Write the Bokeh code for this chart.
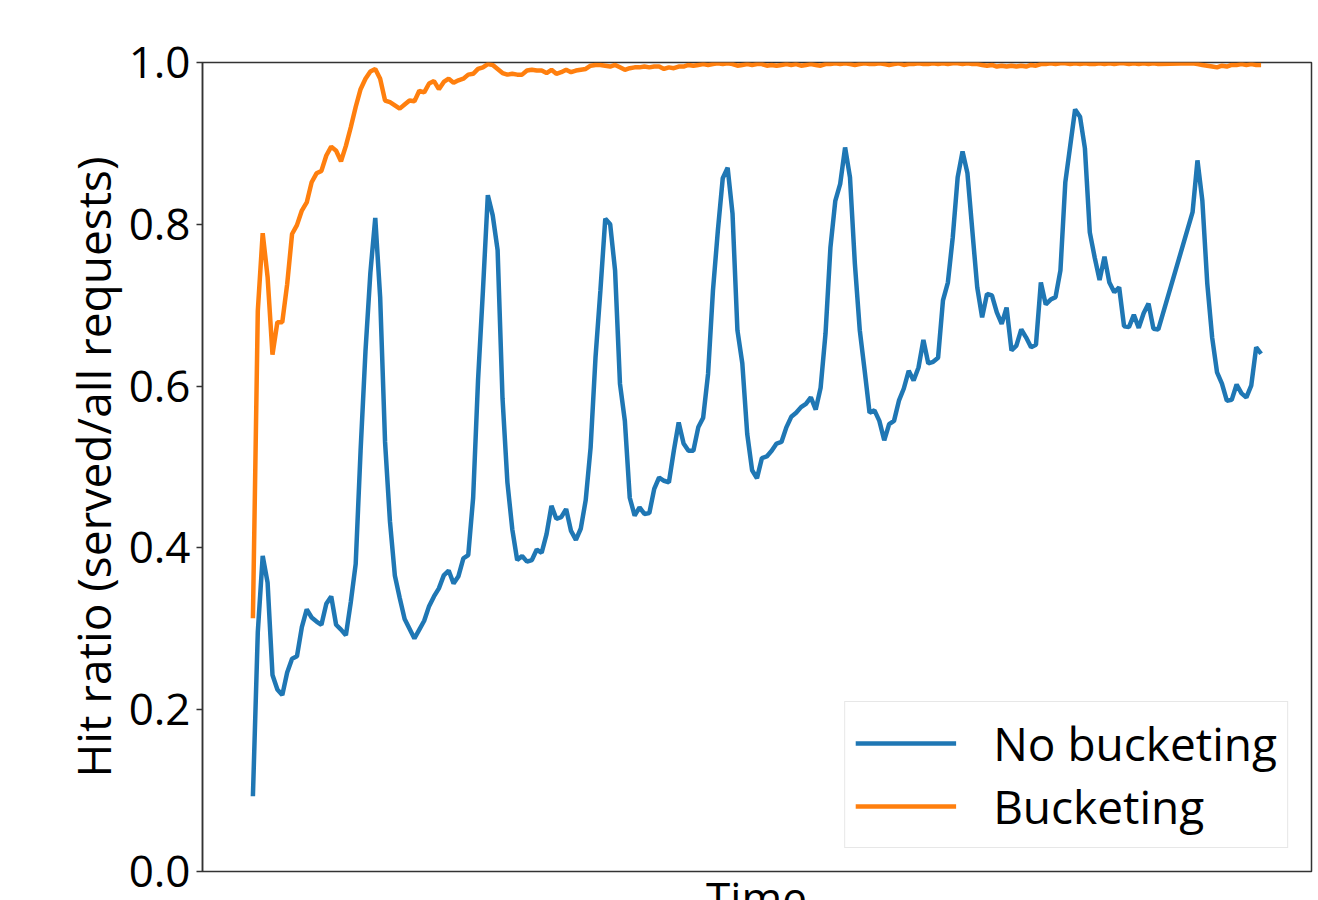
from bokeh.plotting import figure
from bokeh.models import Range1d, FixedTicker, PrintfTickFormatter, Legend, LegendItem, Div
from bokeh.layouts import column
from bokeh.embed import file_html
from bokeh.resources import INLINE

# ---------------- data ----------------
# hourly samples (a few hours missing near the end)
hours = list(range(0, 186)) + list(range(192, 207))

no_bucketing = [
    0.093, 0.296, 0.390, 0.357, 0.243, 0.225, 0.218, 0.246, 0.263, 0.266,
    0.302, 0.324, 0.314, 0.309, 0.305, 0.331, 0.340, 0.305, 0.299, 0.292,
    0.333, 0.380, 0.520, 0.643, 0.740, 0.808, 0.710, 0.531, 0.433, 0.366,
    0.338, 0.312, 0.300, 0.288, 0.299, 0.310, 0.328, 0.340, 0.350, 0.366,
    0.372, 0.356, 0.365, 0.387, 0.391, 0.462, 0.607, 0.718, 0.836, 0.811,
    0.768, 0.585, 0.481, 0.423, 0.385, 0.390, 0.383, 0.385, 0.398, 0.394,
    0.417, 0.452, 0.436, 0.438, 0.448, 0.421, 0.410, 0.424, 0.459, 0.524,
    0.635, 0.718, 0.807, 0.800, 0.743, 0.603, 0.557, 0.462, 0.440, 0.450,
    0.442, 0.443, 0.473, 0.487, 0.483, 0.481, 0.520, 0.555, 0.529, 0.520,
    0.520, 0.549, 0.561, 0.615, 0.718, 0.792, 0.857, 0.870, 0.813, 0.669,
    0.628, 0.541, 0.496, 0.486, 0.511, 0.513, 0.520, 0.529, 0.531, 0.549,
    0.562, 0.567, 0.574, 0.578, 0.586, 0.571, 0.598, 0.665, 0.771, 0.829,
    0.850, 0.895, 0.858, 0.751, 0.669, 0.619, 0.567, 0.570, 0.557, 0.533,
    0.553, 0.557, 0.582, 0.597, 0.619, 0.607, 0.623, 0.657, 0.628, 0.630,
    0.635, 0.706, 0.728, 0.784, 0.858, 0.890, 0.863, 0.792, 0.722, 0.685,
    0.714, 0.712, 0.691, 0.677, 0.697, 0.644, 0.650, 0.670, 0.660, 0.648,
    0.651, 0.728, 0.701, 0.707, 0.710, 0.743, 0.852, 0.897, 0.942, 0.933,
    0.894, 0.790, 0.759, 0.731, 0.760, 0.728, 0.716, 0.722, 0.674, 0.673,
    0.688, 0.672, 0.690, 0.702, 0.671, 0.670,
    0.815, 0.879, 0.829, 0.727, 0.660, 0.617, 0.603, 0.582, 0.583, 0.602,
    0.591, 0.586, 0.601, 0.648, 0.640,
]

bucketing = [
    0.313, 0.693, 0.789, 0.735, 0.639, 0.679, 0.679, 0.726, 0.788, 0.799,
    0.817, 0.827, 0.852, 0.863, 0.866, 0.885, 0.896, 0.891, 0.878, 0.897,
    0.920, 0.945, 0.967, 0.980, 0.989, 0.992, 0.980, 0.953, 0.951, 0.947,
    0.943, 0.948, 0.953, 0.952, 0.965, 0.963, 0.974, 0.977, 0.967, 0.976,
    0.980, 0.975, 0.978, 0.980, 0.985, 0.986, 0.992, 0.994, 0.998, 0.997,
    0.992, 0.987, 0.985, 0.986, 0.985, 0.985, 0.990, 0.991, 0.990, 0.990,
    0.987, 0.991, 0.986, 0.988, 0.991, 0.988, 0.990, 0.991, 0.992, 0.996,
    0.997, 0.997, 0.996, 0.995, 0.997, 0.994, 0.991, 0.993, 0.994, 0.994,
    0.995, 0.994, 0.995, 0.995, 0.992, 0.994, 0.993, 0.995, 0.995, 0.997,
    0.996, 0.997, 0.998, 0.997, 0.998, 0.999, 0.998, 0.999, 0.998, 0.996,
    0.997, 0.998, 0.997, 0.998, 0.998, 0.996, 0.997, 0.996, 0.997, 0.998,
    0.997, 0.998, 0.996, 0.997, 0.998, 0.997, 0.996, 0.998, 0.998, 0.999,
    0.998, 0.999, 0.998, 0.997, 0.998, 0.999, 0.998, 0.998, 0.999, 0.998,
    0.997, 0.998, 0.999, 0.997, 0.998, 0.998, 0.999, 0.998, 0.998, 0.999,
    0.998, 0.999, 0.998, 0.999, 0.999, 0.998, 0.999, 0.998, 0.998, 0.997,
    0.996, 0.997, 0.995, 0.996, 0.995, 0.996, 0.995, 0.996, 0.995, 0.997,
    0.996, 0.998, 0.998, 0.999, 0.998, 0.999, 0.999, 0.998, 0.999, 0.998,
    0.999, 0.998, 0.998, 0.999, 0.998, 0.999, 0.998, 0.999, 0.999, 0.998,
    0.999, 0.998, 0.999, 0.998, 0.999, 0.998,
    0.999, 0.998, 0.997, 0.996, 0.995, 0.994, 0.996, 0.995, 0.997, 0.997,
    0.998, 0.997, 0.998, 0.997, 0.997,
]

series_names = ["No bucketing", "Bucketing"]
series_colors = ["#1f77b4", "#ff7f0e"]
y_ticks = [0.0, 0.2, 0.4, 0.6, 0.8, 1.0]
y_label = "Hit ratio (served/all requests)"
x_label = "Time"

# ---------------- figure ----------------
span = max(hours) - min(hours)
pad = 0.05 * span
FONT = "Open Sans"

p = figure(width=1318, height=897, output_backend="svg", toolbar_location=None,
           x_range=Range1d(min(hours) - pad, max(hours) + pad),
           y_range=Range1d(0, 1),
           x_axis_location=None,
           min_border_left=202, min_border_right=7,
           min_border_top=62, min_border_bottom=26)

p.grid.visible = False
p.background_fill_color = "white"
p.border_fill_color = "white"
p.outline_line_color = "#333333"
p.outline_line_width = 1.5
p.outline_line_alpha = 1.0

r1 = p.line(hours, no_bucketing, line_color=series_colors[0], line_width=4.5)
r2 = p.line(hours, bucketing, line_color=series_colors[1], line_width=4.5)

ax = p.yaxis[0]
ax.ticker = FixedTicker(ticks=y_ticks)
ax.formatter = PrintfTickFormatter(format="%.1f")
ax.major_label_text_font = FONT
ax.major_label_text_font_size = "44px"
ax.major_label_text_color = "black"
ax.major_label_standoff = 6
ax.major_tick_out = 6
ax.major_tick_in = 0
ax.minor_tick_out = 0
ax.minor_tick_in = 0
ax.major_tick_line_color = "#333333"
ax.major_tick_line_width = 1.5
ax.axis_line_color = "#333333"
ax.axis_line_width = 1.5
ax.axis_label = y_label
ax.axis_label_text_font = FONT
ax.axis_label_text_font_size = "46px"
ax.axis_label_text_font_style = "normal"
ax.axis_label_text_color = "black"
ax.axis_label_standoff = 2

legend = Legend(items=[LegendItem(label=series_names[0], renderers=[r1]),
                       LegendItem(label=series_names[1], renderers=[r2])],
                location="bottom_right")
legend.label_text_font = FONT
legend.label_text_font_size = "46px"
legend.label_text_color = "black"
legend.glyph_width = 101
legend.glyph_height = 40
legend.label_standoff = 37
legend.padding = 10
legend.spacing = 1
legend.margin = 23
legend.border_line_color = "#d0d0d0"
legend.border_line_width = 1.5
legend.background_fill_alpha = 0.8
p.add_layout(legend)

# x-axis title, partly cut off at the bottom edge as in the reference
xtitle = Div(text='<div style="margin-top:-10px; position:relative; top:-9px; line-height:44px;">%s</div>' % x_label,
             width=1109, height=25, margin=(-22, 0, 0, 202),
             styles={"font-family": FONT, "font-size": "44px", "text-align": "center",
                     "overflow": "hidden", "color": "black"})

layout = column(p, xtitle, spacing=0)
open("out.html", "w").write(file_html(layout, INLINE))
